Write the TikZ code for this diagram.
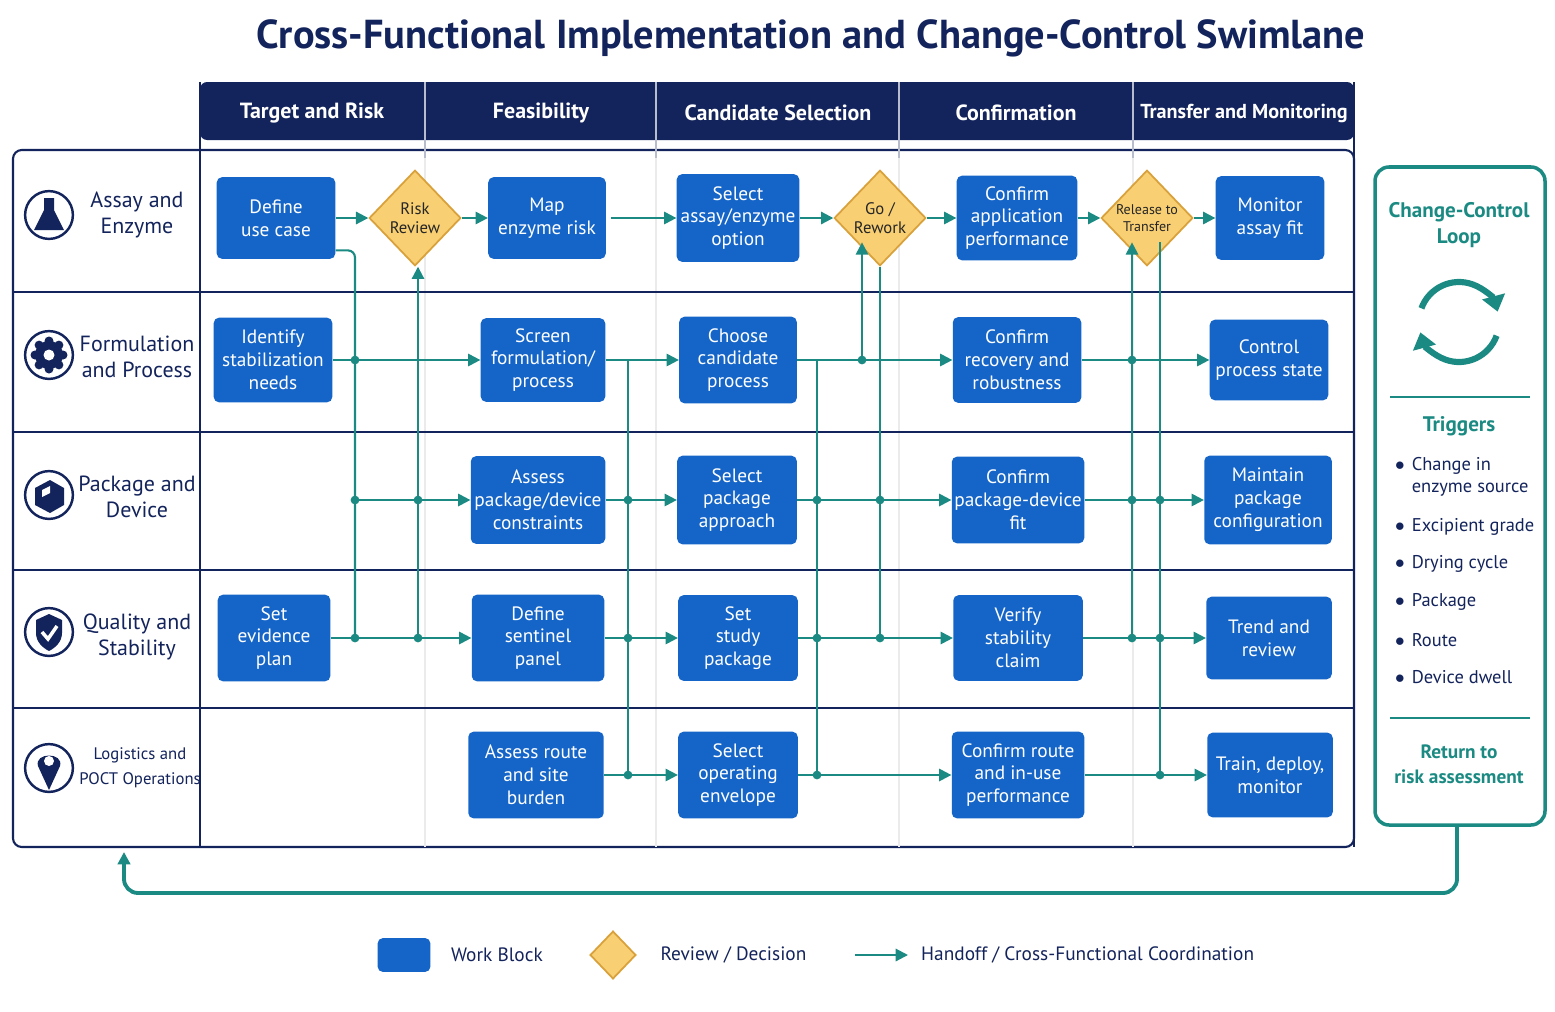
\documentclass[tikz,border=0pt]{standalone}
\usepackage{fontspec}
\setmainfont{PT Sans}
\usetikzlibrary{shapes.geometric, arrows.meta, calc, positioning}
\definecolor{navy}{HTML}{13235B}
\definecolor{blockblue}{HTML}{1565C8}
\definecolor{flowteal}{HTML}{1B8A82}
\definecolor{decfill}{HTML}{F8CF73}
\definecolor{decline}{HTML}{D9A13B}
\newcommand\pxu{0.567pt}
\tikzset{
  blk/.style={fill=blockblue, rounded corners=3pt, text=white, align=center,
    font=\fontsize{11}{13}\selectfont, inner sep=0pt},
  dec/.style={diamond, fill=decfill, draw=decline, line width=1pt, align=center,
    minimum width=92*\pxu, minimum height=96*\pxu, inner sep=0pt,
    font=\fontsize{9.5}{11}\selectfont, text=black!85},
  flow/.style={flowteal, line width=1.2pt, -{Triangle[length=7pt,width=7pt]}},
  link/.style={flowteal, line width=1.2pt},
  dot/.style={circle, fill=flowteal, inner sep=0pt, minimum size=5pt},
  lane/.style={text=navy, align=center, font=\fontsize{12.5}{14.5}\selectfont},
  head/.style={text=white, font=\bfseries\fontsize{12.5}{15}\selectfont},
  icon/.style={circle, draw=navy, line width=1.4pt, minimum size=48*\pxu, inner sep=0pt},
  side/.style={text=flowteal, align=center, font=\bfseries\fontsize{12}{15}\selectfont},
  trig/.style={text=navy, align=left, anchor=west, font=\fontsize{10.5}{13}\selectfont}
}
\begin{document}
\begin{tikzpicture}[x=0.02cm, y=-0.02cm]
    \useasboundingbox (0,0) rectangle (1555,1011);
    % Title
    \node[text=navy, font=\bfseries\fontsize{23}{28}\selectfont] (title) at (811,38)
      {Cross-Functional Implementation and Change-Control Swimlane};

    % Frame and header
    \fill[navy, rounded corners=4pt] (200,82) rectangle (1354,140);
    \draw[navy, line width=1.2pt, rounded corners=5pt] (13,150) rectangle (1354,847);
    \draw[navy, line width=1.2pt] (200,82) -- (200,847) (1354,82) -- (1354,847);
    \foreach \x in {425,656,899,1133} {
      \draw[white!70!navy, line width=0.8pt] (\x,82) -- (\x,158);
      \draw[black!8, line width=0.8pt] (\x,158) -- (\x,847);
    }
    \foreach \y in {292,432,570,708}
      \draw[navy, line width=1pt] (13,\y) -- (1354,\y);
    \node[head] (h1) at (312,113) {Target and Risk};
    \node[head] (h2) at (541,113) {Feasibility};
    \node[head] (h3) at (778,113) {Candidate Selection};
    \node[head] (h4) at (1016,113) {Confirmation};
    \node[head, font=\bfseries\fontsize{11.5}{15}\selectfont] (h5) at (1244,113) {Transfer and Monitoring};

    % Lanes
    \node[lane] (l1) at (137,215) {Assay and\\Enzyme};
    \node[lane] (l2) at (137,357) {Formulation\\and Process};
    \node[lane] (l3) at (137,497) {Package and\\Device};
    \node[lane] (l4) at (137,637) {Quality and\\Stability};
    \node[lane, font=\fontsize{9.5}{14}\selectfont] (l5) at (140,768) {Logistics and\\POCT Operations};
    \node[icon] (i1) at (49,215) {};
    \node[icon] (i2) at (49,355) {};
    \node[icon] (i3) at (49,495) {};
    \node[icon] (i4) at (49,632) {};
    \node[icon] (i5) at (49,768) {};
    \fill[navy] (44,198) -- (54,198) -- (54,210) -- (64,230) -- (34,230) -- (44,210) -- cycle;
    \foreach \a in {0,45,...,315}
      \fill[navy] (i2.center) ++(\a:14) circle (4.5);
    \fill[navy] (i2.center) circle (14);
    \fill[white] (i2.center) circle (5.5);
    \fill[navy] (35,488) -- (50,480) -- (64,488) -- (64,505) -- (50,513) -- (35,505) -- cycle;
    \fill[white] (42,490) -- (50,486) -- (50,493) -- (42,497) -- cycle;
    \fill[navy] (36,620) -- (49,614) -- (62,620) -- (62,633) .. controls (62,642) and (55,648) .. (49,651)
      .. controls (43,648) and (36,642) .. (36,633) -- cycle;
    \draw[white, line width=2pt] (42,632) -- (48,639) -- (57,626);
    \fill[navy] (49,790) -- (38,766) .. controls (34,752) and (64,752) .. (60,766) -- cycle;
    \fill[white] (49,761) circle (5);

    % Row 1
    \node[blk, minimum width=119*\pxu, minimum height=82*\pxu] (dfn) at (276,218) {Define\\use case};
    \node[dec] (rsk) at (415,218) {Risk\\Review};
    \node[blk, minimum width=118*\pxu, minimum height=82*\pxu] (map) at (547,218) {Map\\enzyme risk};
    \node[blk, minimum width=123*\pxu, minimum height=88*\pxu] (sel) at (738,218) {Select\\assay/enzyme\\option};
    \node[dec] (go) at (880,218) {Go /\\Rework};
    \node[blk, minimum width=121*\pxu, minimum height=85*\pxu] (cap) at (1017,218) {Confirm\\application\\performance};
    \node[dec, font=\fontsize{8}{10}\selectfont] (rel) at (1147,218) {Release to\\Transfer};
    \node[blk, minimum width=109*\pxu, minimum height=84*\pxu] (mon) at (1270,218) {Monitor\\assay fit};
    % Row 2
    \node[blk, minimum width=119*\pxu, minimum height=85*\pxu] (idn) at (273,360) {Identify\\stabilization\\needs};
    \node[blk, minimum width=125*\pxu, minimum height=84*\pxu] (scr) at (543,360) {Screen\\formulation/\\process};
    \node[blk, minimum width=118*\pxu, minimum height=87*\pxu] (cho) at (738,360) {Choose\\candidate\\process};
    \node[blk, minimum width=129*\pxu, minimum height=86*\pxu] (crr) at (1017,360) {Confirm\\recovery and\\robustness};
    \node[blk, minimum width=119*\pxu, minimum height=81*\pxu] (ctl) at (1269,360) {Control\\process state};
    % Row 3
    \node[blk, minimum width=135*\pxu, minimum height=88*\pxu] (apd) at (538,500) {Assess\\package/device\\constraints};
    \node[blk, minimum width=120*\pxu, minimum height=89*\pxu] (spa) at (737,500) {Select\\package\\approach};
    \node[blk, minimum width=133*\pxu, minimum height=87*\pxu] (cpd) at (1018,500) {Confirm\\package-device\\fit};
    \node[blk, minimum width=128*\pxu, minimum height=89*\pxu] (mpc) at (1268,500) {Maintain\\package\\configuration};
    % Row 4
    \node[blk, minimum width=113*\pxu, minimum height=87*\pxu] (sep) at (274,638) {Set\\evidence\\plan};
    \node[blk, minimum width=133*\pxu, minimum height=87*\pxu] (dsp) at (538,638) {Define\\sentinel\\panel};
    \node[blk, minimum width=120*\pxu, minimum height=86*\pxu] (ssp) at (738,638) {Set\\study\\package};
    \node[blk, minimum width=130*\pxu, minimum height=86*\pxu] (vsc) at (1018,638) {Verify\\stability\\claim};
    \node[blk, minimum width=126*\pxu, minimum height=83*\pxu] (trv) at (1269,638) {Trend and\\review};
    % Row 5
    \node[blk, minimum width=136*\pxu, minimum height=87*\pxu] (arb) at (536,775) {Assess route\\and site\\burden};
    \node[blk, minimum width=120*\pxu, minimum height=87*\pxu] (soe) at (738,775) {Select\\operating\\envelope};
    \node[blk, minimum width=133*\pxu, minimum height=87*\pxu] (cri) at (1018,775) {Confirm route\\and in-use\\performance};
    \node[blk, minimum width=126*\pxu, minimum height=85*\pxu] (tdm) at (1270,775) {Train, deploy,\\monitor};

    % Junction dots
    \foreach \x in {355} \foreach \r/\y in {2/360,3/500,4/638} \node[dot] (d\x r\r) at (\x,\y) {};
    \foreach \x in {418,880} \foreach \r/\y in {3/500,4/638} \node[dot] (d\x r\r) at (\x,\y) {};
    \foreach \x in {628,817,1160} \foreach \r/\y in {3/500,4/638,5/775} \node[dot] (d\x r\r) at (\x,\y) {};
    \foreach \r/\y in {2/360,3/500,4/638} \node[dot] (d1132r\r) at (1132,\y) {};
    \node[dot] (d862r2) at (862,360) {};

    % Verticals
    \draw[link, rounded corners=4pt] ([yshift=5pt]dfn.south east) -| (d355r4.center);
    \draw[flow] (d418r4.center) -- (d418r4 |- rsk.south);
    \draw[link] (d628r5 |- scr.east) -- (d628r5.center);
    \draw[link] (d817r5 |- cho.east) -- (d817r5.center);
    \draw[flow] (d862r2.center) -- (d862r2 |- go.south west);
    \draw[link] (go.south) -- (d880r4.center);
    \draw[flow] (d1132r4.center) -- (d1132r4 |- rel.south west);
    \draw[link] (d1160r5 |- rel.south east) -- (d1160r5.center);

    % Row 1 flow
    \draw[flow] (dfn) -- (rsk);
    \draw[flow] (rsk) -- (map);
    \draw[flow] ([xshift=3pt]map.east) -- (sel);
    \draw[flow] (sel) -- (go);
    \draw[flow] (go) -- (cap);
    \draw[flow] (cap) -- (rel);
    \draw[flow] (rel) -- (mon);
    % Row 2 flow
    \draw[flow] (idn) -- (d355r2.center) -- (scr);
    \draw[flow] (scr) -- (cho);
    \draw[flow] (cho) -- (d862r2.center) -- (crr);
    \draw[flow] (crr) -- (d1132r2.center) -- (ctl);
    % Row 3 flow
    \draw[flow] (d355r3.center) -- (apd);
    \draw[flow] (apd) -- (spa);
    \draw[flow] (spa) -- (cpd);
    \draw[flow] (cpd) -- (mpc);
    % Row 4 flow
    \draw[flow] (sep) -- (dsp);
    \draw[flow] (dsp) -- (ssp);
    \draw[flow] (ssp) -- (vsc);
    \draw[flow] (vsc) -- (trv);
    % Row 5 flow
    \draw[flow] (arb) -- (soe);
    \draw[flow] (soe) -- (cri);
    \draw[flow] (cri) -- (tdm);

    % Change-control panel
    \draw[flowteal, line width=2pt, rounded corners=8pt] (1375,167) rectangle (1545,825);
    \node[side] (ccl) at (1459,225) {Change-Control\\Loop};
    \coordinate (cyc) at (1459,322);
    \draw[flowteal, line width=3.5pt, -{Triangle[length=9pt,width=13pt]}] (cyc) ++(200:40) arc (200:345:40);
    \draw[flowteal, line width=3.5pt, -{Triangle[length=9pt,width=13pt]}] (cyc) ++(20:40) arc (20:165:40);
    \draw[flowteal, line width=1pt] (1390,397) -- (1530,397) (1390,718) -- (1530,718);
    \node[side] (trg) at (1459,426) {Triggers};
    \node[trig] (t1) at (1389,477) {$\bullet$\hspace{4pt}\begin{tabular}[t]{@{}l@{}}Change in\\enzyme source\end{tabular}};
    \node[trig] (t2) at (1389,527) {$\bullet$\hspace{4pt}Excipient grade};
    \node[trig] (t3) at (1389,564) {$\bullet$\hspace{4pt}Drying cycle};
    \node[trig] (t4) at (1389,602) {$\bullet$\hspace{4pt}Package};
    \node[trig] (t5) at (1389,640) {$\bullet$\hspace{4pt}Route};
    \node[trig] (t6) at (1389,677) {$\bullet$\hspace{4pt}Device dwell};
    \node[side, font=\bfseries\fontsize{11}{14}\selectfont] (ret) at (1459,764) {Return to\\risk assessment};
    \coordinate (back) at (124,852);
    \draw[flow, line width=2.2pt, rounded corners=8pt] (1457,825) |- (800,893) -| (back);

    % Legend
    \node[fill=blockblue, rounded corners=3pt, minimum width=53*\pxu, minimum height=34*\pxu] (lg1) at (404,955) {};
    \node[right=8pt of lg1, text=navy, font=\fontsize{11}{13}\selectfont] (lt1) {Work Block};
    \node[dec, minimum width=46*\pxu, minimum height=48*\pxu] (lg2) at (613,955) {};
    \node[right=10pt of lg2, text=navy, font=\fontsize{11}{13}\selectfont] (lt2) {Review / Decision};
    \coordinate (lg3) at (855,955);
    \coordinate (lg3e) at (908,955);
    \draw[flow] (lg3) -- (lg3e);
    \node[right=4pt of lg3e, text=navy, font=\fontsize{11}{13}\selectfont] (lt3) {Handoff / Cross-Functional Coordination};
\end{tikzpicture}
\end{document}
